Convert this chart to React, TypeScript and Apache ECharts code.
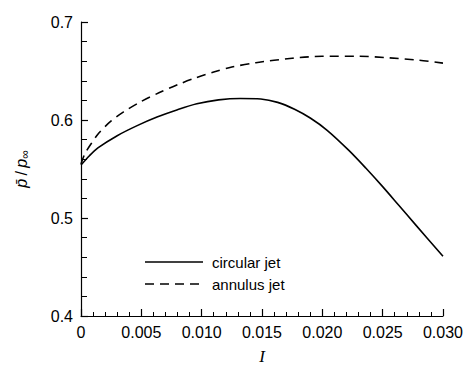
import React, { useEffect, useRef } from "react";
import * as echarts from "echarts";

// Mean pressure ratio vs. parameter I for two jet configurations
const circularI = [0, 0.0007, 0.0014, 0.003, 0.0047, 0.0063, 0.008, 0.0096, 0.0114, 0.0132, 0.0149, 0.0163, 0.0177, 0.019, 0.0204, 0.0222, 0.0236, 0.025, 0.0263, 0.0277, 0.03];
const circularP = [0.554, 0.5635, 0.5715, 0.584, 0.5945, 0.603, 0.6105, 0.6165, 0.6205, 0.622, 0.6215, 0.618, 0.611, 0.602, 0.5895, 0.569, 0.551, 0.532, 0.5135, 0.4935, 0.461];

const annulusI = [0, 0.0003, 0.0008, 0.0015, 0.0025, 0.0035, 0.005, 0.0065, 0.008, 0.0095, 0.011, 0.0125, 0.0145, 0.0175, 0.02, 0.023, 0.0255, 0.028, 0.03];
const annulusP = [0.555, 0.565, 0.575, 0.587, 0.599, 0.608, 0.619, 0.628, 0.636, 0.643, 0.649, 0.654, 0.6585, 0.663, 0.665, 0.665, 0.6635, 0.661, 0.658];

const seriesNames = ["circular jet", "annulus jet"];

const FONT = "Liberation Sans";

export default function App() {
  const ref = useRef<HTMLDivElement>(null);

  useEffect(() => {
    if (!ref.current) return;
    const chart = echarts.init(ref.current, null, { renderer: "svg" });
    const zip = (xs: number[], ys: number[]) => xs.map((x, i) => [x, ys[i]]);

    chart.setOption({
      animation: false,
      backgroundColor: "#ffffff",
      grid: { left: 81, right: 18, top: 22, bottom: 48 },
      xAxis: {
        type: "value",
        min: 0,
        max: 0.03,
        interval: 0.005,
        name: "I",
        nameLocation: "middle",
        nameGap: 32,
        nameTextStyle: { fontFamily: "Liberation Serif", fontStyle: "italic", fontSize: 17, color: "#000" },
        axisLine: { show: true, lineStyle: { color: "#000", width: 1.2 } },
        axisTick: { show: true, inside: true, length: 7, lineStyle: { color: "#000", width: 1.2 } },
        minorTick: { show: true, splitNumber: 5, length: 4, lineStyle: { color: "#000", width: 1 } },
        axisLabel: {
          color: "#000",
          fontFamily: FONT,
          fontSize: 16,
          margin: 8,
          formatter: (v: number) => (v === 0 ? "0" : v.toFixed(3)),
        },
        splitLine: { show: false },
      },
      yAxis: {
        type: "value",
        min: 0.4,
        max: 0.7,
        interval: 0.1,
        name: "{i|p\u0304} {n|/} {i|p}{s|\u221e}",
        nameLocation: "middle",
        nameRotate: 90,
        nameGap: 50,
        nameTextStyle: {
          color: "#000",
          rich: {
            i: { fontFamily: FONT, fontStyle: "italic", fontSize: 16, color: "#000" },
            n: { fontFamily: FONT, fontSize: 16, color: "#000" },
            s: { fontFamily: FONT, fontSize: 12, color: "#000", padding: [8, 0, 0, 0] },
          },
        },
        axisLine: { show: true, lineStyle: { color: "#000", width: 1.2 } },
        axisTick: { show: true, inside: true, length: 7, lineStyle: { color: "#000", width: 1.2 } },
        minorTick: { show: true, splitNumber: 5, length: 6, lineStyle: { color: "#000", width: 1 } },
        axisLabel: {
          color: "#000",
          fontFamily: FONT,
          fontSize: 16,
          margin: 8,
          formatter: (v: number) => v.toFixed(1),
        },
        splitLine: { show: false },
      },
      series: [
        {
          name: seriesNames[0],
          type: "line",
          data: zip(circularI, circularP),
          showSymbol: false,
          smooth: 0.3,
          lineStyle: { color: "#000", width: 1.6, type: "solid" },
        },
        {
          name: seriesNames[1],
          type: "line",
          data: zip(annulusI, annulusP),
          showSymbol: false,
          smooth: 0.3,
          lineStyle: { color: "#000", width: 1.6, type: [9, 6] },
        },
      ],
      graphic: [
        {
          type: "line",
          shape: { x1: 145, y1: 262, x2: 203, y2: 262 },
          style: { stroke: "#000", lineWidth: 1.6 },
        },
        {
          type: "text",
          x: 212,
          y: 262,
          style: { text: seriesNames[0], fill: "#000", font: `15px "${FONT}"`, verticalAlign: "middle" },
        },
        {
          type: "line",
          shape: { x1: 145, y1: 284, x2: 203, y2: 284 },
          style: { stroke: "#000", lineWidth: 1.6, lineDash: [9, 6] },
        },
        {
          type: "text",
          x: 212,
          y: 284,
          style: { text: seriesNames[1], fill: "#000", font: `15px "${FONT}"`, verticalAlign: "middle" },
        },
      ],
    });

    return () => chart.dispose();
  }, []);

  return (
    <div
      ref={ref}
      style={{ position: "fixed", left: 0, top: 0, width: 466, height: 370 }}
    />
  );
}
